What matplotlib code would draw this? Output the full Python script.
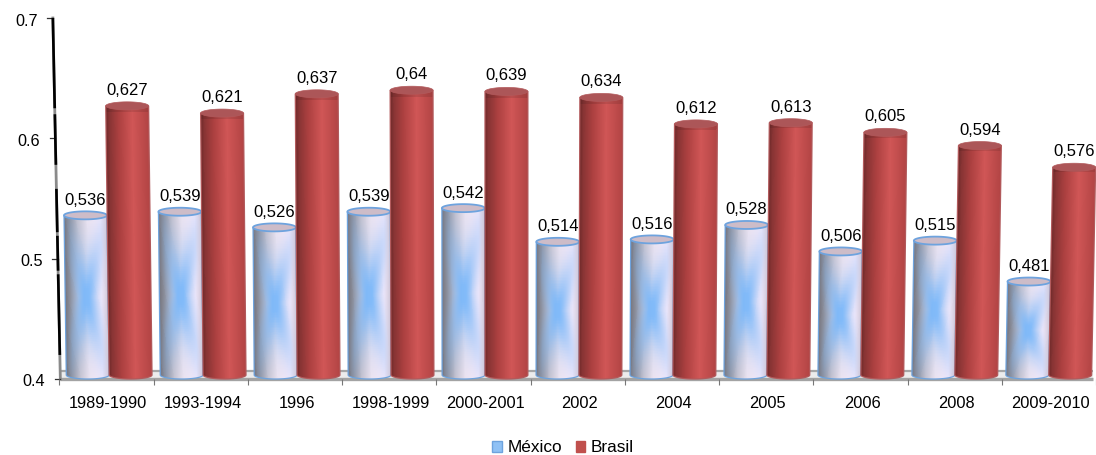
import numpy as np
import matplotlib
matplotlib.use("Agg")
import matplotlib.pyplot as plt
from matplotlib.patches import Patch, Polygon

plt.rcParams['font.family'] = ['Liberation Sans', 'DejaVu Sans']

periods = ['1989-1990', '1993-1994', '1996', '1998-1999', '2000-2001', '2002',
           '2004', '2005', '2006', '2008', '2009-2010']
mexico = [0.536, 0.539, 0.526, 0.539, 0.542, 0.514, 0.516, 0.528, 0.506, 0.515, 0.481]
brasil = [0.627, 0.621, 0.637, 0.64, 0.639, 0.634, 0.612, 0.613, 0.605, 0.594, 0.576]
y_ticks = [0.4, 0.5, 0.6, 0.7]

W, H = 1096, 455
AX_L, AX_R, AX_T, AX_B = 0, 1096, 18, 379
X0, DX = 108.5, 94.5          # pixel position of the first group and group pitch
YMIN, YMAX = 0.4, 0.7

fig = plt.figure(figsize=(W / 100, H / 100), dpi=100, facecolor='white')
ax = fig.add_axes([AX_L / W, 1 - AX_B / H, (AX_R - AX_L) / W, (AX_B - AX_T) / H])
ax.set_xlim((AX_L - X0) / DX, (AX_R - X0) / DX)
ax.set_ylim(YMIN, YMAX)
ax.patch.set_alpha(0)
for s in ax.spines.values():
    s.set_visible(False)

px = 1 / DX                    # one pixel along x, in data units
py = (YMAX - YMIN) / (AX_B - AX_T)  # one pixel along y, in data units


def axis_x(v):
    """Horizontal position of the leaning value axis at value v."""
    return (60.5 - 7.5 * (v - YMIN) / 0.3 - X0) / DX


def lean(x, v):
    """Perspective drift of a column top: outward from the middle of the chart."""
    xpix = x * DX + X0
    return (xpix - 507) * 3.4e-5 * (v - YMIN) / py * px


def mexico_colors(n_v, n_u):
    u = np.linspace(-1, 1, n_u)
    v = np.linspace(-1, 1, n_v)
    U, V = np.meshgrid(u, v)
    t = (U + 1) / 2
    stops = [0, .12, .32, .55, .85, 1]
    r = np.interp(t, stops, [118, 142, 198, 238, 246, 205])
    g = np.interp(t, stops, [118, 142, 194, 228, 234, 198])
    b = np.interp(t, stops, [128, 152, 206, 240, 250, 215])
    # Soft blue cross, strongest in the middle of the column
    cross = np.exp(-((np.abs(U) - np.abs(V)) / 0.48) ** 2) * (1 - 0.7 * np.abs(V))
    glow = np.exp(-(U ** 2 / 0.22 + V ** 2 / 0.4))
    a = np.clip(0.58 * cross + 0.38 * glow, 0, 0.9)[..., None]
    a = a * np.clip((1 - np.abs(U)) * 3.5, 0, 1)[..., None]
    base = np.dstack([r, g, b])
    blue = np.array([118, 182, 250.0])
    return (base * (1 - a) + blue * a) / 255


def brasil_colors(n_v, n_u):
    t = (np.linspace(-1, 1, n_u) + 1) / 2
    stops = [0, .08, .3, .62, 1]
    r = np.interp(t, stops, [112, 136, 172, 208, 178])
    g = np.interp(t, stops, [42, 52, 64, 86, 68])
    b = np.interp(t, stops, [42, 52, 64, 86, 68])
    rgb = np.dstack([r, g, b])
    rgb = np.repeat(rgb, n_v, axis=0)
    # Slightly darker band just under the rim
    shade = np.ones(n_v)
    shade[-max(2, n_v // 40):] = 0.9
    return rgb * shade[:, None, None] / 255


def cylinder(center, value, width, painter, cap, edge, rim_w, z):
    rx = width / 2
    ry = 4.0 * py
    base = YMIN + ry
    theta = np.linspace(0, np.pi, 40)

    # Column body, sheared towards the top and closed by the base arc
    n = 90
    vs = np.linspace(base, value, n + 1)
    us = np.linspace(-1, 1, n + 1)
    X = np.array([[center + lean(center, y) + s * rx for s in us] for y in vs])
    Y = np.repeat(vs[:, None], len(us), axis=1)
    Y = Y - ry * np.sqrt(np.clip(1 - us ** 2, 0, 1))[None, :] * np.linspace(1, 0, len(vs))[:, None]
    mesh = ax.pcolormesh(X, Y, painter(n, n), shading='flat', zorder=z,
                         linewidth=0, antialiased=False)
    mesh.set_clip_on(False)

    top_c = center + lean(center, value)
    left = [(center + lean(center, base) - rx * np.cos(a), base - ry * np.sin(a)) for a in theta]
    body = left + [(top_c + rx, value), (top_c - rx, value)]
    ax.add_patch(Polygon(body, closed=True, fill=False, edgecolor=edge, linewidth=0.9,
                         zorder=z + 0.1, clip_on=False))
    ring = [(top_c + rx * np.cos(a), value + ry * np.sin(a))
            for a in np.linspace(0, 2 * np.pi, 80)]
    ax.add_patch(Polygon(ring, closed=True, facecolor=cap, edgecolor=edge, linewidth=rim_w,
                         zorder=z + 0.2, clip_on=False))
    return top_c


right_edge = (1096 - X0) / DX
# Floor of the chart
ax.add_patch(Polygon([(axis_x(YMIN), YMIN), (axis_x(YMIN + 8 * py), YMIN + 8 * py),
                      (right_edge, YMIN + 8 * py), (right_edge, YMIN)],
                     closed=True, facecolor='#ececec', edgecolor='none', zorder=1, clip_on=False))
ax.plot([axis_x(YMIN), right_edge], [YMIN + py * 0.5] * 2, color='#a3a3a3', lw=2.4,
        zorder=1.2, clip_on=False, solid_capstyle='butt')
ax.plot([axis_x(YMIN + 8 * py), right_edge], [YMIN + 8 * py] * 2, color='#a6a6a6', lw=1.6,
        zorder=1.2, clip_on=False, solid_capstyle='butt')

# Leaning value axis: worn black stroke over a grey one
ax.plot([axis_x(0.7), axis_x(0.4)], [0.7, 0.4], color='#8a8a8a', lw=2.0, zorder=1.5, clip_on=False)
for a, b in [(0.7, 0.625), (0.62, 0.578), (0.558, 0.522), (0.519, 0.49), (0.487, 0.42)]:
    ax.plot([axis_x(a), axis_x(b)], [a, b], color='black', lw=1.9, zorder=1.6, clip_on=False,
            solid_capstyle='butt')

# Value ticks and labels
ax.set_yticks([])
for v in y_ticks:
    ax.plot([axis_x(v) - 5.5 * px, axis_x(v)], [v, v], color='#333333', lw=0.9, clip_on=False, zorder=1.5)
    ax.text(axis_x(v) - 15 * px, v - 3 * py, f'{v:.1f}', ha='right', va='center',
            fontsize=11.7, color='black', clip_on=False)

# Category ticks on the group boundaries
ax.set_xticks(np.arange(len(periods) + 1) - 0.5 - 1.8 * px)
ax.set_xticklabels([])
ax.tick_params(axis='x', which='major', length=4, width=0.8, color='#777777')
ax.set_xticks(np.arange(len(periods)), minor=True)
ax.set_xticklabels(periods, minor=True, fontsize=11.8, color='black')
ax.tick_params(axis='x', which='minor', length=0, pad=12.5)

# Columns and their value labels
bar_w = 43 * px
for i, (m, b) in enumerate(zip(mexico, brasil)):
    c = i * 94.2 / DX + 1.0 * px
    cm = c - 21.5 * px
    cb = c + 21.5 * px
    tm = cylinder(cm, m, bar_w, mexico_colors, '#cdbcc8', '#6ea3de', 1.3, 3)
    tb = cylinder(cb, b, bar_w, brasil_colors, '#ac5658', '#b25a5c', 0.5, 4)
    ax.text(tm, m + 15 * py, f'{m:.3f}'.rstrip('0').replace('.', ','), ha='center', va='center',
            fontsize=12, color='black', zorder=6, clip_on=False)
    ax.text(tb, b + 15.5 * py, f'{b:.3f}'.rstrip('0').replace('.', ','), ha='center', va='center',
            fontsize=12, color='black', zorder=6, clip_on=False)

handles = [Patch(facecolor='#8fc1f5', edgecolor='#6ea3de', linewidth=1.0, label='México'),
           Patch(facecolor='#c0504d', edgecolor='#c0504d', label='Brasil')]
fig.legend(handles=handles, loc='center', bbox_to_anchor=(563 / W, 1 - 448 / H), ncol=2,
           frameon=False, fontsize=12.4, handlelength=0.56, handleheight=0.56,
           handletextpad=0.3, columnspacing=0.8, borderpad=0, labelcolor='black')

fig.savefig('out.png', dpi=100, facecolor='white')
